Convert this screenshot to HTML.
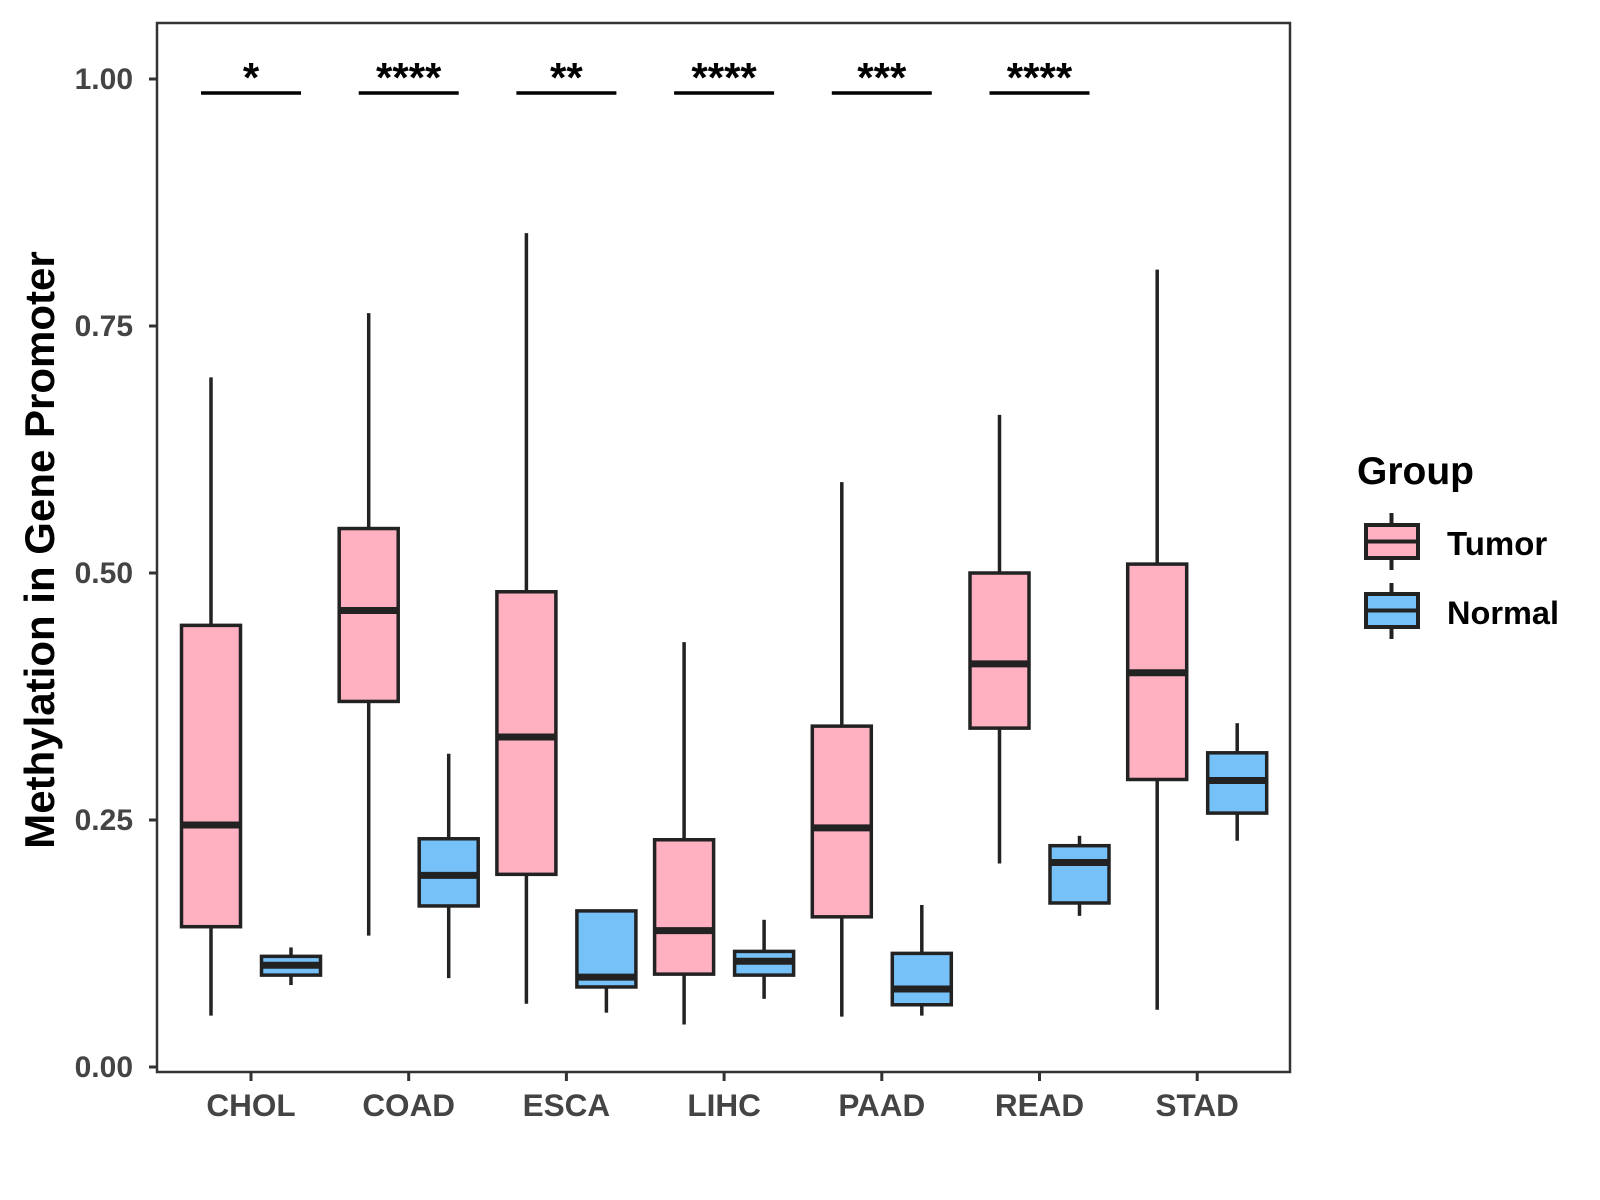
<!DOCTYPE html>
<html><head><meta charset="utf-8"><style>
html,body{margin:0;padding:0;background:#fff}
svg{display:block}
text{font-family:"Liberation Sans",Arial,sans-serif;font-weight:bold}
</style></head><body>
<svg id="chart" width="1600" height="1200" viewBox="0 0 1600 1200" xmlns="http://www.w3.org/2000/svg">
<rect x="0" y="0" width="1600" height="1200" fill="#fff"/>
<g id="plot"></g>
<text transform="translate(54,550) rotate(-90)" text-anchor="middle" font-size="42" fill="#000">Methylation in Gene Promoter</text>
<g>
<text x="1357" y="484" font-size="39" fill="#000">Group</text>
<g>
<line x1="1391.5" y1="513" x2="1391.5" y2="570" stroke="#222" stroke-width="4"/>
<rect x="1366" y="525" width="52" height="33" fill="#FFB0C1" stroke="#222" stroke-width="4"/>
<line x1="1366" y1="541.5" x2="1418" y2="541.5" stroke="#222" stroke-width="4"/>
<text x="1447" y="555" font-size="33" fill="#000">Tumor</text>
</g>
<g>
<line x1="1391.5" y1="583" x2="1391.5" y2="639" stroke="#222" stroke-width="4"/>
<rect x="1366" y="594" width="52" height="33" fill="#75C1F8" stroke="#222" stroke-width="4"/>
<line x1="1366" y1="610.5" x2="1418" y2="610.5" stroke="#222" stroke-width="4"/>
<text x="1447" y="624" font-size="32.5" fill="#000">Normal</text>
</g>
</g>
</svg>
<script>
const categories = ["CHOL","COAD","ESCA","LIHC","PAAD","READ","STAD"];
// [lowerWhisker, q1, median, q3, upperWhisker]
const tumorStats = [
 [0.052,0.142,0.245,0.447,0.698],
 [0.133,0.370,0.462,0.545,0.763],
 [0.064,0.195,0.334,0.481,0.844],
 [0.043,0.094,0.138,0.230,0.430],
 [0.051,0.152,0.242,0.345,0.592],
 [0.206,0.343,0.408,0.500,0.660],
 [0.058,0.291,0.399,0.509,0.807]
];
const normalStats = [
 [0.083,0.093,0.103,0.112,0.121],
 [0.090,0.163,0.194,0.231,0.317],
 [0.055,0.081,0.091,0.158,0.158],
 [0.069,0.093,0.107,0.117,0.149],
 [0.052,0.063,0.079,0.115,0.164],
 [0.153,0.166,0.207,0.224,0.234],
 [0.229,0.257,0.290,0.318,0.348]
];
const sigLabels = ["*","****","**","****","***","****"];
const yTicks = [0,0.25,0.5,0.75,1.0];
const yTickLabels = ["0.00","0.25","0.50","0.75","1.00"];

const NS="http://www.w3.org/2000/svg";
const P={l:157,t:23,r:1290,b:1072};
const y = v => 1067 - 988*v;
const x = i => 251 + 157.7*i;
const g=document.getElementById('plot');
function mk(tag,attrs,parent){const e=document.createElementNS(NS,tag);for(const k in attrs)e.setAttribute(k,attrs[k]);(parent||g).appendChild(e);return e;}

yTicks.forEach((v,i)=>{
  const t=mk('line',{x1:P.l-8,x2:P.l,y1:y(v),y2:y(v),stroke:'#333','stroke-width':3});
  
  
  const tx=mk('text',{x:P.l-24,y:y(v)+10,'text-anchor':'end','font-size':30,fill:'#444'});
  tx.textContent=yTickLabels[i];
  
  
});
categories.forEach((c,i)=>{
  const t=mk('line',{x1:x(i),x2:x(i),y1:P.b,y2:P.b+9,stroke:'#333','stroke-width':3});
  
  
  const tx=mk('text',{x:x(i),y:P.b+44,'text-anchor':'middle','font-size':31.5,fill:'#444'});
  tx.textContent=c;
  
  
});

function box(cx,s,fill,name){
  const bw=59, grp=mk('g',{});
  
  
  mk('line',{x1:cx,x2:cx,y1:y(s[4]),y2:y(s[3]),stroke:'#222','stroke-width':3.5},grp);
  mk('line',{x1:cx,x2:cx,y1:y(s[1]),y2:y(s[0]),stroke:'#222','stroke-width':3.5},grp);
  mk('rect',{x:cx-bw/2,y:y(s[3]),width:bw,height:y(s[1])-y(s[3]),fill:fill,stroke:'#222','stroke-width':3.5},grp);
  mk('line',{x1:cx-bw/2,x2:cx+bw/2,y1:y(s[2]),y2:y(s[2]),stroke:'#222','stroke-width':7},grp);
}
categories.forEach((c,i)=>{
  box(x(i)-40,tumorStats[i],'#FFB0C1','box-tumor-'+c.toLowerCase());
  box(x(i)+40,normalStats[i],'#75C1F8','box-normal-'+c.toLowerCase());
});
sigLabels.forEach((s,i)=>{
  const l=mk('line',{x1:x(i)-50,x2:x(i)+50,y1:93,y2:93,stroke:'#000','stroke-width':3.5});
  
  
  const t=mk('text',{x:x(i),y:92,'text-anchor':'middle','font-size':42,fill:'#000'});
  t.textContent=s;
  
  
});
const fr=mk('rect',{x:P.l,y:P.t,width:P.r-P.l,height:P.b-P.t,fill:'none',stroke:'#333','stroke-width':2.5});


</script>
</body></html>
